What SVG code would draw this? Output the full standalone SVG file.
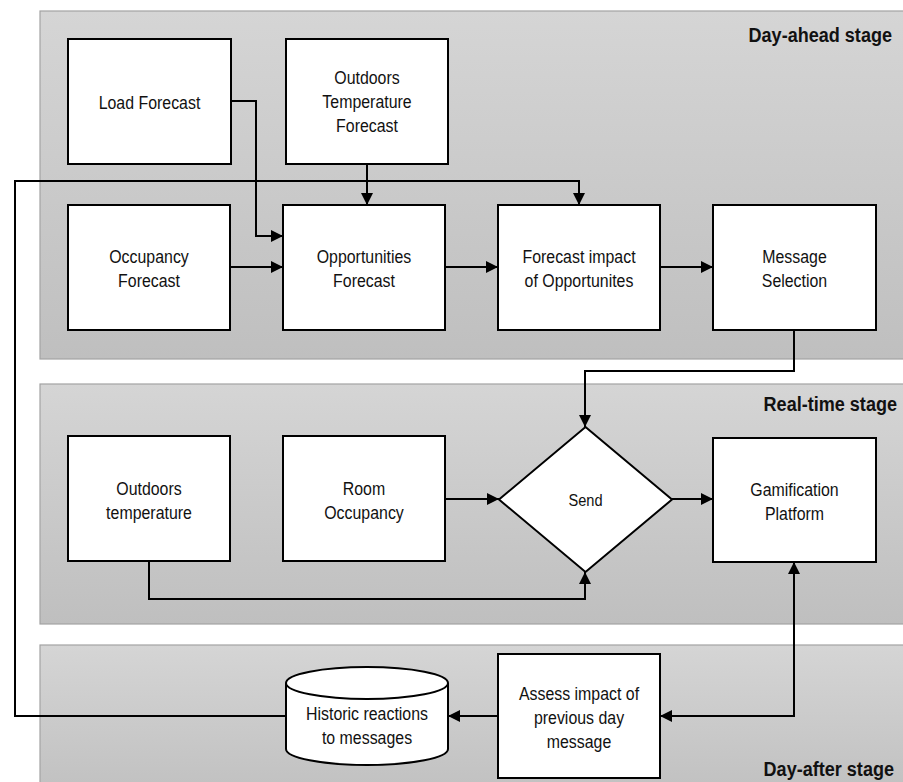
<svg xmlns="http://www.w3.org/2000/svg" width="903" height="782" viewBox="0 0 903 782">
  <defs>
    <linearGradient id="stageFill" x1="0" y1="0" x2="0" y2="1">
      <stop offset="0" stop-color="#d5d5d5"/>
      <stop offset="1" stop-color="#bfbfbf"/>
    </linearGradient>
    <marker id="arrow" viewBox="0 0 12 12" markerWidth="12" markerHeight="12" refX="12" refY="6" orient="auto-start-reverse" markerUnits="userSpaceOnUse">
      <path d="M0,0 L12,6 L0,12 z" fill="#000"/>
    </marker>
    <style>
      .stage { fill: url(#stageFill); stroke: #a3a3a3; stroke-width: 1.2; }
      .stage-label { font-family: "Liberation Sans", Arial, sans-serif; font-weight: bold; font-size: 21px; fill: #111; text-anchor: end; }
      .box { fill: #fff; stroke: #000; stroke-width: 2; }
      .label { font-family: "Liberation Sans", Arial, sans-serif; font-size: 18.5px; fill: #111; text-anchor: middle; }
      .wire { fill: none; stroke: #000; stroke-width: 2; }
      .to { marker-end: url(#arrow); }
      .both { marker-start: url(#arrow); marker-end: url(#arrow); }
    </style>
  </defs>

  <rect width="903" height="782" fill="#fff"/>

  <!-- stage bands -->
  <g id="stages">
    <rect class="stage" x="40" y="11" width="880" height="348"/>
    <rect class="stage" x="40" y="384" width="880" height="240"/>
    <rect class="stage" x="40" y="645" width="880" height="160"/>
    <text class="stage-label" transform="translate(892,0) scale(0.86,1)" x="0" y="42">Day-ahead stage</text>
    <text class="stage-label" transform="translate(897,0) scale(0.86,1)" x="0" y="411">Real-time stage</text>
    <text class="stage-label" transform="translate(894,0) scale(0.86,1)" x="0" y="776">Day-after stage</text>
  </g>

  <!-- connectors -->
  <g id="connectors">
    <path class="wire to" d="M231,101 H256 V236 H283"/>
    <path class="wire to" d="M367,164 V205"/>
    <path class="wire to" d="M286,716 H15 V181 H579 V205"/>
    <path class="wire to" d="M230,267 H283"/>
    <path class="wire to" d="M445,267 H498"/>
    <path class="wire to" d="M660,267 H713"/>
    <path class="wire to" d="M794,330 V371 H585 V427"/>
    <path class="wire to" d="M445,499 H499"/>
    <path class="wire to" d="M149,561 V599 H585 V572"/>
    <path class="wire to" d="M672,499 H713"/>
    <path class="wire both" d="M794,562 V716 H660"/>
    <path class="wire to" d="M498,716 H448"/>
  </g>

  <!-- day-ahead nodes -->
  <g id="load-forecast">
    <rect class="box" x="68" y="39" width="163" height="125"/>
    <text class="label" transform="translate(149.5,0) scale(0.86,1)" x="0" y="109">Load Forecast</text>
  </g>
  <g id="outdoors-temperature-forecast">
    <rect class="box" x="286" y="39" width="162" height="125"/>
    <text class="label" transform="translate(367,0) scale(0.86,1)"><tspan x="0" y="84">Outdoors</tspan><tspan x="0" y="108">Temperature</tspan><tspan x="0" y="132">Forecast</tspan></text>
  </g>
  <g id="occupancy-forecast">
    <rect class="box" x="68" y="205" width="162" height="125"/>
    <text class="label" transform="translate(149,0) scale(0.86,1)"><tspan x="0" y="263">Occupancy</tspan><tspan x="0" y="287">Forecast</tspan></text>
  </g>
  <g id="opportunities-forecast">
    <rect class="box" x="283" y="205" width="162" height="125"/>
    <text class="label" transform="translate(364,0) scale(0.86,1)"><tspan x="0" y="263">Opportunities</tspan><tspan x="0" y="287">Forecast</tspan></text>
  </g>
  <g id="forecast-impact">
    <rect class="box" x="498" y="205" width="162" height="125"/>
    <text class="label" transform="translate(579,0) scale(0.86,1)"><tspan x="0" y="263">Forecast impact</tspan><tspan x="0" y="287">of Opportunites</tspan></text>
  </g>
  <g id="message-selection">
    <rect class="box" x="713" y="205" width="163" height="125"/>
    <text class="label" transform="translate(794.5,0) scale(0.86,1)"><tspan x="0" y="263">Message</tspan><tspan x="0" y="287">Selection</tspan></text>
  </g>

  <!-- real-time nodes -->
  <g id="outdoors-temperature">
    <rect class="box" x="68" y="436" width="162" height="125"/>
    <text class="label" transform="translate(149,0) scale(0.86,1)"><tspan x="0" y="495">Outdoors</tspan><tspan x="0" y="519">temperature</tspan></text>
  </g>
  <g id="room-occupancy">
    <rect class="box" x="283" y="436" width="162" height="125"/>
    <text class="label" transform="translate(364,0) scale(0.86,1)"><tspan x="0" y="495">Room</tspan><tspan x="0" y="519">Occupancy</tspan></text>
  </g>
  <g id="send">
    <polygon class="box" points="585.5,427 672,499.5 585.5,572 499,499.5"/>
    <text class="label" transform="translate(585.5,0) scale(0.86,1)" x="0" y="506" style="font-size:17px">Send</text>
  </g>
  <g id="gamification-platform">
    <rect class="box" x="713" y="438" width="163" height="124"/>
    <text class="label" transform="translate(794.5,0) scale(0.86,1)"><tspan x="0" y="496">Gamification</tspan><tspan x="0" y="520">Platform</tspan></text>
  </g>

  <!-- day-after nodes -->
  <g id="historic-reactions">
    <path class="box" d="M286,683 V749 A81,16 0 0 0 448,749 V683 A81,16 0 0 0 286,683 Z"/>
    <path class="wire" d="M286,683 A81,16 0 0 0 448,683"/>
    <text class="label" transform="translate(367,0) scale(0.86,1)"><tspan x="0" y="720">Historic reactions</tspan><tspan x="0" y="744">to messages</tspan></text>
  </g>
  <g id="assess-impact">
    <rect class="box" x="498" y="654" width="162" height="124"/>
    <text class="label" transform="translate(579,0) scale(0.86,1)"><tspan x="0" y="700">Assess impact of</tspan><tspan x="0" y="724">previous day</tspan><tspan x="0" y="748">message</tspan></text>
  </g>
</svg>
